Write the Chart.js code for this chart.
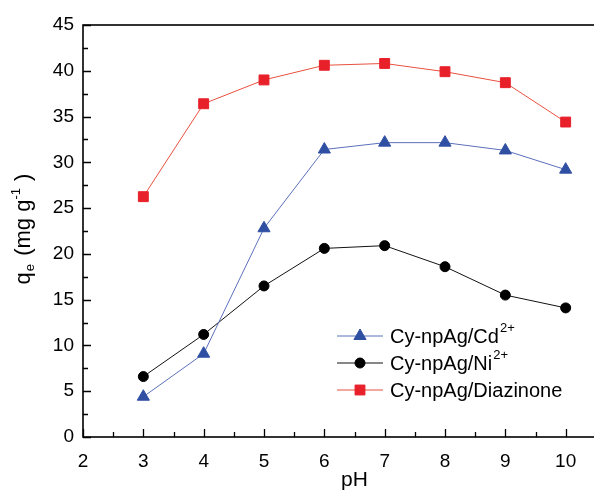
<!DOCTYPE html>
<html>
<head>
<meta charset="utf-8">
<script src="https://cdn.jsdelivr.net/npm/chart.js"></script>
<style>
  html, body { margin: 0; padding: 0; background: #fff; overflow: hidden; }
  #wrap { width: 640px; height: 493px; }
</style>
</head>
<body>
<div id="wrap"><canvas id="c" width="640" height="493"></canvas></div>
<script>
// données
const pH = [3, 4, 5, 6, 7, 8, 9, 10];
const qeCd = [4.4, 9.1, 22.8, 31.4, 32.15, 32.15, 31.3, 29.2];
const qeNi = [6.6, 11.2, 16.5, 20.6, 20.9, 18.6, 15.5, 14.1];
const qeDiaz = [26.25, 36.4, 39.0, 40.6, 40.8, 39.9, 38.7, 34.4];
const xTicks = [2, 3, 4, 5, 6, 7, 8, 9, 10];
const yTicks = [0, 5, 10, 15, 20, 25, 30, 35, 40, 45];
const labels = ["Cy-npAg/Cd", "Cy-npAg/Ni", "Cy-npAg/Diazinone"];
const labelSup = ["2+", "2+", ""];

const FONT = "Liberation Sans, Arial, sans-serif";

function pts(ys) {
  return pH.map((x, i) => ({ x: x, y: ys[i] }));
}

// ticks vers l'intérieur + cadre
const frame = {
  id: "frame",
  afterDraw(chart) {
    const ctx = chart.ctx;
    const a = chart.chartArea;
    const xs = chart.scales.x, ys = chart.scales.y;
    ctx.save();
    ctx.strokeStyle = "#000";
    ctx.lineWidth = 1.6;
    ctx.strokeRect(a.left, a.top, a.right - a.left, a.bottom - a.top);
    ctx.lineWidth = 1.3;
    ctx.beginPath();
    for (let v = xs.min; v <= xs.max + 0.001; v += 0.5) {
      const p = Math.round(xs.getPixelForValue(v)) + 0.5;
      const len = Number.isInteger(v) ? 8 : 5;
      ctx.moveTo(p, a.bottom);
      ctx.lineTo(p, a.bottom - len);
    }
    for (let v = ys.min; v <= ys.max + 0.001; v += 2.5) {
      const p = Math.round(ys.getPixelForValue(v)) + 0.5;
      const len = v % 5 === 0 ? 8 : 5;
      ctx.moveTo(a.left, p);
      ctx.lineTo(a.left + len, p);
    }
    ctx.stroke();

    // titre de l'axe y
    ctx.fillStyle = "#000";
    ctx.translate(24, 229);
    ctx.rotate(-Math.PI / 2);
    ctx.textBaseline = "middle";
    const parts = [
      ["q", 22, 0, 1], ["e", 13, 6, 2], [" (mg g", 22, 0, 0], ["-1", 13, -8, 1], [" )", 22, 0, 0]
    ];
    let w = 0;
    parts.forEach(p => { ctx.font = p[1] + "px " + FONT; w += ctx.measureText(p[0]).width + p[3]; });
    let cx = -w / 2;
    parts.forEach(p => {
      ctx.font = p[1] + "px " + FONT;
      ctx.fillText(p[0], cx, p[2]);
      cx += ctx.measureText(p[0]).width + p[3];
    });
    ctx.restore();

    // légende
    ctx.save();
    const rowY = [336, 363, 390];
    chart.data.datasets.forEach((ds, i) => {
      const y = rowY[i];
      ctx.strokeStyle = ds.borderColor;
      ctx.lineWidth = 1;
      ctx.beginPath();
      ctx.moveTo(337, y);
      ctx.lineTo(383, y);
      ctx.stroke();
      const opts = {
        pointStyle: ds.pointStyle,
        radius: ds.pointRadius,
        rotation: 0,
        borderWidth: 1
      };
      ctx.fillStyle = ds.pointBackgroundColor;
      ctx.strokeStyle = ds.pointBorderColor;
      Chart.helpers.drawPoint(ctx, opts, 360, y);
      ctx.fillStyle = "#000";
      ctx.font = "20px " + FONT;
      ctx.textBaseline = "middle";
      ctx.fillText(labels[i], 390, y + 1);
      if (labelSup[i]) {
        const tw = ctx.measureText(labels[i]).width;
        ctx.font = "13px " + FONT;
        ctx.fillText(labelSup[i], 390 + tw + 1, y - 8);
      }
    });
    ctx.restore();
  }
};

new Chart(document.getElementById("c"), {
  type: "line",
  data: {
    datasets: [
      {
        label: labels[0],
        data: pts(qeCd),
        borderColor: "#5b70bb",
        borderWidth: 1,
        pointStyle: "triangle",
        pointRadius: 7,
        pointBackgroundColor: "#2f4fa3",
        pointBorderColor: "#2f4fa3",
        pointBorderWidth: 1
      },
      {
        label: labels[1],
        data: pts(qeNi),
        borderColor: "#111",
        borderWidth: 1,
        pointStyle: "circle",
        pointRadius: 5,
        pointBackgroundColor: "#000",
        pointBorderColor: "#000",
        pointBorderWidth: 1
      },
      {
        label: labels[2],
        data: pts(qeDiaz),
        borderColor: "#e8503f",
        borderWidth: 1,
        pointStyle: "rect",
        pointRadius: 7,
        pointBackgroundColor: "#e8202a",
        pointBorderColor: "#e8202a",
        pointBorderWidth: 1
      }
    ]
  },
  options: {
    responsive: false,
    animation: false,
    layout: { padding: { left: 0, top: 25, right: 14, bottom: 0 } },
    plugins: { legend: { display: false }, tooltip: { enabled: false } },
    scales: {
      x: {
        type: "linear",
        min: 2,
        max: 11,
        afterBuildTicks: s => { s.ticks = xTicks.map(v => ({ value: v })); },
        afterFit: s => { s.height = 56; },
        grid: { display: false, drawTicks: false },
        border: { display: false },
        ticks: { color: "#000", font: { family: FONT, size: 19 }, padding: 13 },
        title: {
          display: true,
          text: "pH",
          color: "#000",
          font: { family: FONT, size: 21 },
          padding: { top: 6, bottom: 0 }
        }
      },
      y: {
        min: 0,
        max: 45,
        afterBuildTicks: s => { s.ticks = yTicks.map(v => ({ value: v })); },
        afterFit: s => { s.width = 83; },
        grid: { display: false, drawTicks: false },
        border: { display: false },
        ticks: { color: "#000", font: { family: FONT, size: 19 }, padding: 9 }
      }
    }
  },
  plugins: [frame]
});
</script>
</body>
</html>
